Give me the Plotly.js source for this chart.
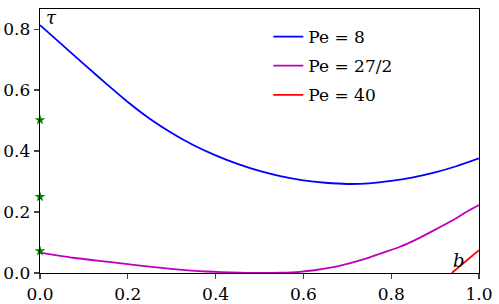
<!DOCTYPE html>
<html>
<head>
<meta charset="utf-8">
<script src="https://cdn.plot.ly/plotly-3.0.1.min.js"></script>
<style>html,body{margin:0;padding:0;background:#fff;}#chart{width:499px;height:304px;}</style>
</head>
<body>
<div id="chart"></div>
<script>
const pe8X = [0, 0.05, 0.1, 0.15, 0.2, 0.25, 0.3, 0.35, 0.4, 0.45, 0.5, 0.55, 0.6, 0.65, 0.7, 0.75, 0.8, 0.85, 0.9, 0.95, 1.0];
const pe8Y = [0.813, 0.749, 0.685, 0.622, 0.561, 0.506, 0.459, 0.419, 0.386, 0.358, 0.335, 0.317, 0.304, 0.296, 0.292, 0.294, 0.302, 0.314, 0.330, 0.351, 0.376];
const pe27X = [0, 0.076, 0.152, 0.228, 0.304, 0.38, 0.456, 0.5, 0.55, 0.592, 0.625, 0.668, 0.7, 0.744, 0.78, 0.82, 0.86, 0.896, 0.94, 0.972, 1.0];
const pe27Y = [0.067, 0.050, 0.037, 0.024, 0.013, 0.005, 0.001, 0.0, 0.001, 0.004, 0.009, 0.019, 0.030, 0.048, 0.066, 0.086, 0.112, 0.139, 0.173, 0.201, 0.223];
const pe40X = [0.938, 0.97, 1.0];
const pe40Y = [0.0, 0.038, 0.075];
const starX = [0, 0, 0];
const starY = [0.072, 0.25, 0.502];
const seriesNames = ['Pe = 8', 'Pe = 27/2', 'Pe = 40'];
const xTicks = [0, 0.2, 0.4, 0.6, 0.8, 1.0];
const xTickText = ['0.0', '0.2', '0.4', '0.6', '0.8', '1.0'];
const yTicks = [0, 0.2, 0.4, 0.6, 0.8];
const yTickText = ['0.0', '0.2', '0.4', '0.6', '0.8'];

const FONT = '"DejaVu Serif", serif';

const traces = [
  {x: pe8X, y: pe8Y, mode: 'lines', name: seriesNames[0], legendgroup: 'a', line: {color: '#0000ff', width: 1.8, shape: 'spline', smoothing: 0.6}},
  {x: pe27X, y: pe27Y, mode: 'lines', name: seriesNames[1], legendgroup: 'b', line: {color: '#bf00bf', width: 1.8, shape: 'spline', smoothing: 0.6}},
  {x: pe40X, y: pe40Y, mode: 'lines', name: seriesNames[2], legendgroup: 'c', line: {color: '#ff0000', width: 1.8}},
  {x: starX, y: starY, mode: 'markers', showlegend: false, cliponaxis: false,
   marker: {symbol: 'star', size: 8, color: '#008000'}}
];

const layout = {
  width: 499, height: 304,
  margin: {l: 40, r: 20, t: 9, b: 31},
  paper_bgcolor: '#fff', plot_bgcolor: '#fff',
  font: {family: FONT, size: 17, color: '#000'},
  showlegend: true,
  legend: {x: 0.52, y: 0.962, xanchor: 'left', yanchor: 'top', bgcolor: 'rgba(0,0,0,0)',
           font: {family: FONT, size: 17}, tracegroupgap: 4},
  xaxis: {range: [0, 1], tickvals: xTicks, ticktext: xTickText, ticks: 'outside', ticklen: 5, tickwidth: 1.2,
          showline: true, mirror: true, linecolor: '#000', linewidth: 1.3, showgrid: false, zeroline: false,
          tickfont: {family: FONT, size: 17}},
  yaxis: {range: [0, 0.866], tickvals: yTicks, ticktext: yTickText, ticks: 'outside', ticklen: 5, tickwidth: 1.2,
          showline: true, mirror: true, linecolor: '#000', linewidth: 1.3, showgrid: false, zeroline: false,
          tickfont: {family: FONT, size: 17}},
  annotations: [
    {x: 0.008, y: 0.838, xref: 'x', yref: 'y', text: '<i>τ</i>', showarrow: false, xanchor: 'left', yanchor: 'middle', font: {family: FONT, size: 18}},
    {x: 0.955, y: 0.04, xref: 'x', yref: 'y', text: '<i>b</i>', showarrow: false, xanchor: 'center', yanchor: 'middle', font: {family: FONT, size: 18}}
  ]
};

Plotly.newPlot('chart', traces, layout, {displayModeBar: false, staticPlot: true});
</script>
</body>
</html>
